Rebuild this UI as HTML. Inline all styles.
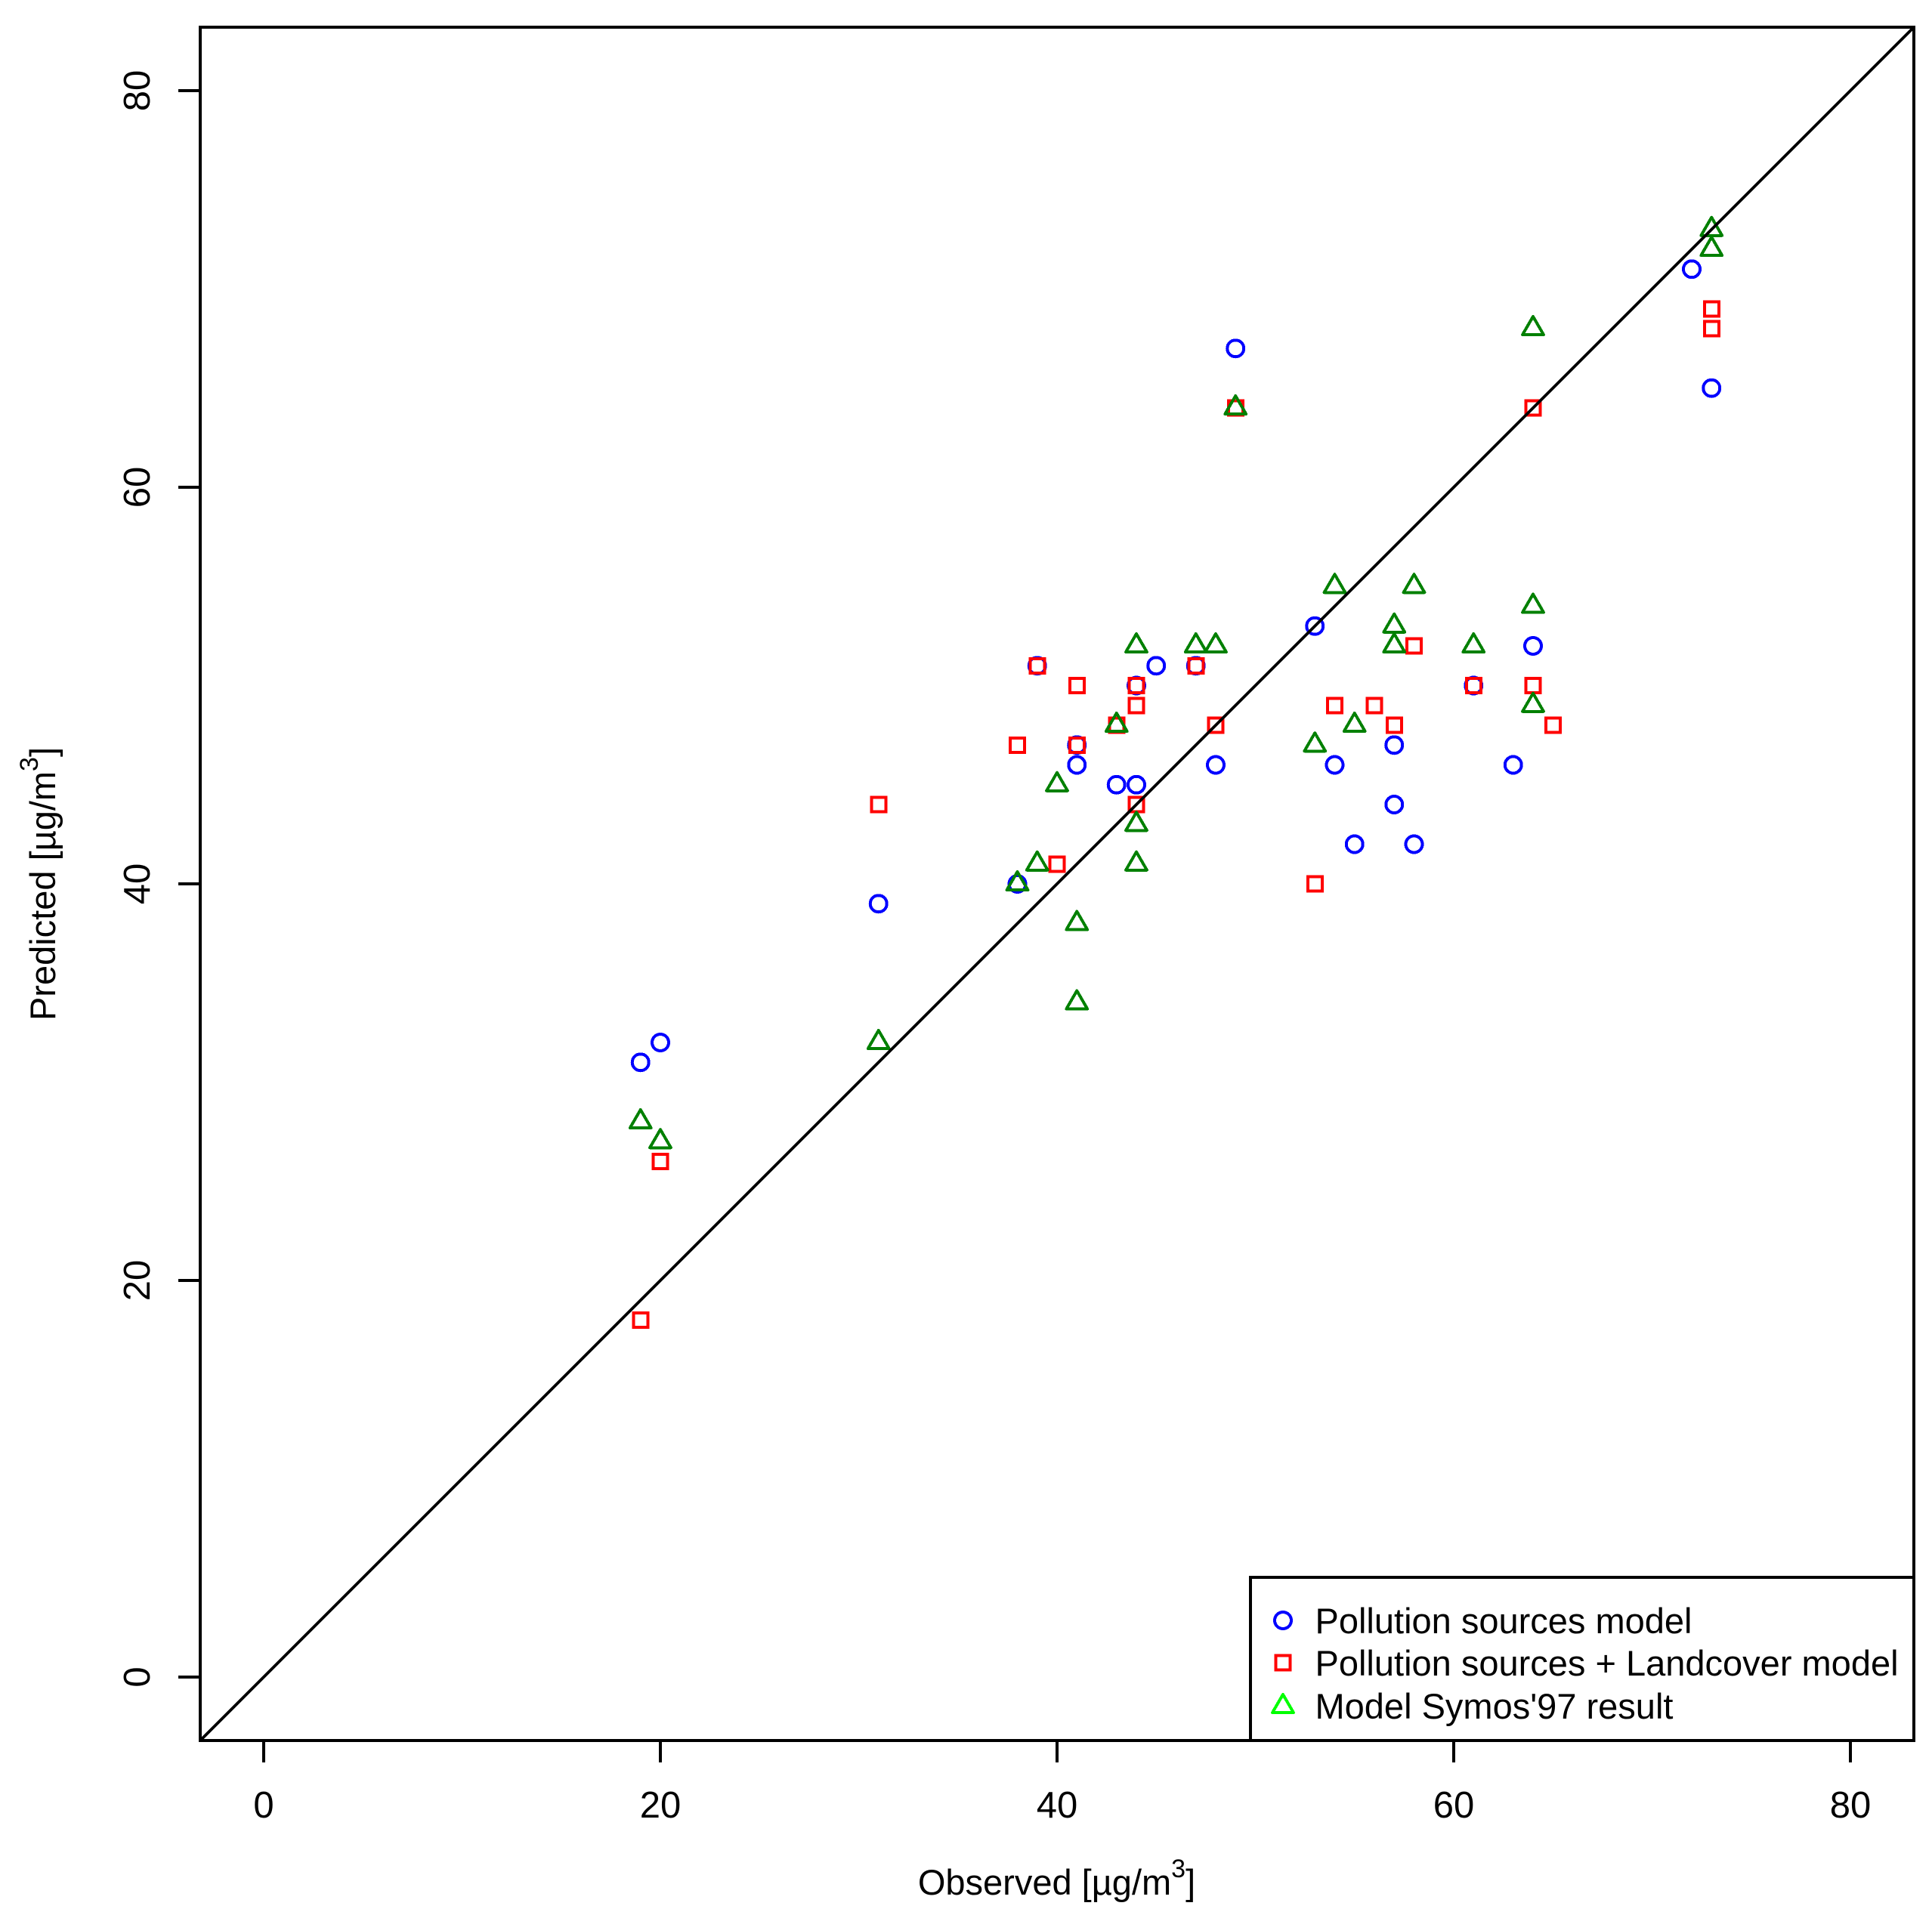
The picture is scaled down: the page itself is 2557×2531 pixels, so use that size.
<!DOCTYPE html>
<html lang="en">
<head>
<meta charset="utf-8">
<title>Observed vs Predicted</title>
<style>
html,body{margin:0;padding:0;background:#fff;}
svg{display:block;}
text{font-family:"Liberation Sans",Arial,sans-serif;font-size:47px;fill:#000;}
text.tick-label{font-size:49px;}
</style>
</head>
<body>
<svg id="chart" xmlns="http://www.w3.org/2000/svg" width="2557" height="2531" viewBox="0 0 2557 2531" shape-rendering="crispEdges">
  <rect x="0" y="0" width="2557" height="2531" fill="#ffffff"/>
  <g id="series-layer"></g>
  <line id="identity-line" stroke="#000" stroke-width="4.2"/>
  <rect x="265" y="36" width="2268" height="2268" fill="none" stroke="#000" stroke-width="4"/>
  <g id="axis-layer"></g>
  <text x="1398.5" y="2508" text-anchor="middle">Observed [µg/m<tspan font-size="34" dy="-23">3</tspan><tspan dy="23">]</tspan></text>
  <text transform="translate(73 1170) rotate(-90)" text-anchor="middle">Predicted [µg/m<tspan font-size="34" dy="-23">3</tspan><tspan dy="23">]</tspan></text>
  <g>
    <rect x="1655" y="2088" width="878" height="216" fill="#ffffff" stroke="#000" stroke-width="4"/>
    <circle cx="1698" cy="2145" r="11" fill="none" stroke="#0000ff" stroke-width="4"/>
    <text x="1740.5" y="2162">Pollution sources model</text>
    <rect x="1688.5" y="2191.5" width="19" height="19" fill="none" stroke="#ff0000" stroke-width="4"/>
    <text x="1740.5" y="2218">Pollution sources + Landcover model</text>
    <polygon points="1698,2243 1711.9,2267 1684.1,2267" fill="none" stroke="#00ff00" stroke-width="4" stroke-linejoin="round"/>
    <text x="1740.5" y="2275">Model Symos'97 result</text>
  </g>
</svg>
<script>
const xTicks = [0, 20, 40, 60, 80];
const yTicks = [0, 20, 40, 60, 80];
const pollutionObserved = [19, 20, 31, 38, 39, 41, 41, 43, 44, 44, 45, 47, 48, 49, 53, 54, 55, 57, 57, 58, 61, 63, 64, 72, 73];
const pollutionPredicted = [31, 32, 39, 40, 51, 46, 47, 45, 45, 50, 51, 51, 46, 67, 53, 46, 42, 47, 44, 42, 50, 46, 52, 71, 65];
const landcoverObserved = [19, 20, 31, 38, 39, 40, 41, 41, 43, 44, 44, 44, 47, 48, 49, 53, 54, 56, 57, 58, 61, 64, 64, 65, 73, 73];
const landcoverPredicted = [18, 26, 44, 47, 51, 41, 50, 47, 48, 50, 49, 44, 51, 48, 64, 40, 49, 49, 48, 52, 50, 64, 50, 48, 69, 68];
const symosObserved = [19, 20, 31, 38, 39, 40, 41, 41, 43, 44, 44, 44, 47, 48, 49, 53, 54, 55, 57, 57, 58, 61, 64, 64, 64, 73, 73];
const symosPredicted = [28, 27, 32, 40, 41, 45, 38, 34, 48, 52, 43, 41, 52, 52, 64, 47, 55, 48, 53, 52, 55, 52, 68, 54, 49, 73, 72];
const axisDomain = [-3.2, 83.2];

const SVG_NS = 'http://www.w3.org/2000/svg';
function xScale(v) { return 265 + (v - axisDomain[0]) * 2268 / (axisDomain[1] - axisDomain[0]); }
function yScale(v) { return 2304 - (v - axisDomain[0]) * 2268 / (axisDomain[1] - axisDomain[0]); }
function make(tag, attrs) {
  const el = document.createElementNS(SVG_NS, tag);
  for (const k in attrs) el.setAttribute(k, attrs[k]);
  return el;
}

const seriesLayer = document.getElementById('series-layer');
const axisLayer = document.getElementById('axis-layer');

const identityLine = document.getElementById('identity-line');
identityLine.setAttribute('x1', xScale(axisDomain[0]));
identityLine.setAttribute('y1', yScale(axisDomain[0]));
identityLine.setAttribute('x2', xScale(axisDomain[1]));
identityLine.setAttribute('y2', yScale(axisDomain[1]));

pollutionObserved.forEach(function (obs, i) {
  const el = make('circle', { cx: xScale(obs), cy: yScale(pollutionPredicted[i]), r: 11, fill: 'none', stroke: '#0000ff', 'stroke-width': 4 });
  
  
  seriesLayer.appendChild(el);
});

landcoverObserved.forEach(function (obs, i) {
  const el = make('rect', { x: xScale(obs) - 9.5, y: yScale(landcoverPredicted[i]) - 9.5, width: 19, height: 19, fill: 'none', stroke: '#ff0000', 'stroke-width': 4 });
  
  
  seriesLayer.appendChild(el);
});

symosObserved.forEach(function (obs, i) {
  const cx = xScale(obs);
  const cy = yScale(symosPredicted[i]);
  const pts = [[cx, cy - 16], [cx + 13.9, cy + 8], [cx - 13.9, cy + 8]].map(function (p) { return p.join(','); }).join(' ');
  const el = make('polygon', { points: pts, fill: 'none', stroke: '#008000', 'stroke-width': 4, 'stroke-linejoin': 'round' });
  
  
  seriesLayer.appendChild(el);
});

xTicks.forEach(function (v) {
  const px = xScale(v);
  const tick = make('line', { x1: px, y1: 2304, x2: px, y2: 2333, stroke: '#000', 'stroke-width': 4 });
  
  
  axisLayer.appendChild(tick);
  const label = make('text', { x: px, y: 2406, 'text-anchor': 'middle', class: 'tick-label' });
  
  
  label.textContent = String(v);
  axisLayer.appendChild(label);
});

yTicks.forEach(function (v) {
  const py = yScale(v);
  const tick = make('line', { x1: 236, y1: py, x2: 265, y2: py, stroke: '#000', 'stroke-width': 4 });
  
  
  axisLayer.appendChild(tick);
  const label = make('text', { transform: 'translate(198 ' + py + ') rotate(-90)', 'text-anchor': 'middle', class: 'tick-label' });
  
  
  label.textContent = String(v);
  axisLayer.appendChild(label);
});
</script>
</body>
</html>
